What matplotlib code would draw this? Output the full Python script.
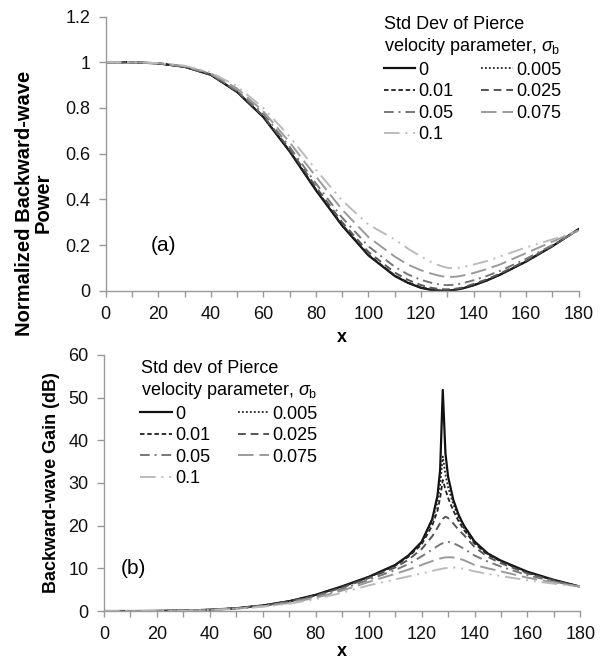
import matplotlib
matplotlib.use("Agg")
import matplotlib.pyplot as plt
from matplotlib.ticker import MultipleLocator

plt.rcParams["font.family"] = ["Liberation Sans", "DejaVu Sans"]
plt.rcParams["mathtext.fontset"] = "custom"
plt.rcParams["mathtext.rm"] = "Liberation Sans"
plt.rcParams["mathtext.it"] = "Liberation Sans:italic"

# %%
# values

x = [0, 10, 20, 30, 40, 50, 60, 70, 80, 90, 100, 110, 115, 120, 124, 126, 127,
     128, 129, 130, 132, 134, 136, 140, 145, 150, 160, 170, 180]

sigmas = ["0", "0.005", "0.01", "0.025", "0.05", "0.075", "0.1"]

# (a) normalized backward-wave power
p0 = [1.0, 1.0, 0.995, 0.98, 0.945, 0.87, 0.76, 0.61, 0.44, 0.285, 0.155, 0.065, 0.035, 0.013, 0.004,
      0.0012, 0.0004, 0.0, 0.0004, 0.0012, 0.003, 0.0065, 0.011, 0.024, 0.045, 0.07, 0.128, 0.195, 0.27]
p005 = [1.0, 1.0, 0.995, 0.98, 0.945, 0.87, 0.76, 0.611, 0.441, 0.286, 0.156, 0.066, 0.036, 0.014, 0.0045,
        0.0016, 0.0008, 0.0003, 0.0006, 0.0014, 0.0032, 0.0067, 0.0112, 0.024, 0.045, 0.07, 0.128, 0.195, 0.27]
p01 = [1.0, 1.0, 0.995, 0.98, 0.945, 0.87, 0.762, 0.613, 0.445, 0.29, 0.158, 0.068, 0.037, 0.015, 0.0055,
       0.0028, 0.0017, 0.0009, 0.0012, 0.002, 0.004, 0.0075, 0.012, 0.025, 0.046, 0.071, 0.129, 0.196, 0.27]
p025 = [1.0, 1.0, 0.995, 0.98, 0.946, 0.872, 0.765, 0.62, 0.455, 0.3, 0.17, 0.08, 0.048, 0.025, 0.013,
        0.0095, 0.0082, 0.0072, 0.0066, 0.0065, 0.0078, 0.0105, 0.015, 0.03, 0.05, 0.075, 0.132, 0.197, 0.268]
p05 = [1.0, 1.0, 0.995, 0.981, 0.948, 0.875, 0.775, 0.63, 0.47, 0.32, 0.195, 0.105, 0.072, 0.048, 0.035,
       0.03, 0.028, 0.026, 0.0255, 0.025, 0.026, 0.029, 0.034, 0.046, 0.065, 0.087, 0.14, 0.2, 0.265]
p075 = [1.0, 1.0, 0.996, 0.983, 0.951, 0.885, 0.785, 0.65, 0.5, 0.355, 0.235, 0.15, 0.115, 0.09, 0.075,
        0.069, 0.066, 0.064, 0.062, 0.061, 0.061, 0.063, 0.067, 0.078, 0.095, 0.115, 0.165, 0.215, 0.265]
p1 = [1.0, 1.0, 0.996, 0.985, 0.955, 0.895, 0.8, 0.675, 0.53, 0.395, 0.29, 0.225, 0.185, 0.15, 0.125,
      0.115, 0.111, 0.107, 0.104, 0.101, 0.099, 0.1, 0.104, 0.115, 0.13, 0.15, 0.19, 0.225, 0.26]

# (b) backward-wave gain, dB
g0 = [0, 0, 0.03, 0.1, 0.3, 0.65, 1.3, 2.3, 3.8, 5.8, 8.0, 10.8, 13.0, 16.2, 21.5, 27, 33,
      51.8, 37, 31.5, 26, 22.5, 20, 16.3, 13.5, 11.8, 9.2, 7.3, 5.7]
g005 = [0, 0, 0.03, 0.1, 0.3, 0.65, 1.3, 2.3, 3.8, 5.75, 8.0, 10.7, 12.9, 16.0, 21, 25.5, 29.5,
        36.2, 32, 29, 25, 21.8, 19.5, 16.1, 13.4, 11.7, 9.1, 7.2, 5.7]
g01 = [0, 0, 0.03, 0.1, 0.3, 0.65, 1.3, 2.3, 3.75, 5.7, 7.9, 10.6, 12.7, 15.6, 20, 23.5, 26.5,
       30.7, 28.5, 26.5, 23.5, 21, 19, 15.8, 13.2, 11.6, 9.0, 7.2, 5.7]
g025 = [0, 0, 0.03, 0.1, 0.3, 0.63, 1.25, 2.2, 3.6, 5.5, 7.7, 10.2, 12.0, 14.5, 17.5, 19.5, 20.6,
        21.6, 22.1, 21.8, 20.5, 19, 17.8, 15, 12.7, 11.2, 8.8, 7.1, 5.7]
g05 = [0, 0, 0.03, 0.1, 0.28, 0.6, 1.2, 2.1, 3.4, 5.2, 7.3, 9.6, 11.0, 12.8, 14.4, 15.2, 15.6,
       15.9, 16.1, 16.2, 15.9, 15.3, 14.6, 13.0, 11.6, 10.4, 8.4, 6.9, 5.7]
g075 = [0, 0, 0.02, 0.08, 0.25, 0.55, 1.1, 1.9, 3.1, 4.8, 6.8, 8.7, 9.7, 10.8, 11.7, 12.1, 12.3,
        12.45, 12.55, 12.6, 12.55, 12.3, 11.9, 10.8, 10.0, 9.3, 7.8, 6.7, 5.7]
g1 = [0, 0, 0.02, 0.07, 0.22, 0.5, 1.0, 1.7, 2.8, 4.3, 6.0, 7.4, 8.1, 8.8, 9.4, 9.7, 9.8,
      9.95, 10.05, 10.1, 10.2, 10.1, 9.9, 9.3, 8.7, 8.2, 7.2, 6.4, 5.7]

power = [p0, p005, p01, p025, p05, p075, p1]
gain = [g0, g005, g01, g025, g05, g075, g1]

# Excel-ish line styles, one per sigma
styles = [
    dict(color="#111111", ls="-", lw=1.6),
    dict(color="#222222", ls=(0, (1, 1.2)), lw=1.3),
    dict(color="#222222", ls=(0, (2.5, 1.5)), lw=1.3),
    dict(color="#555555", ls=(0, (4, 2.5)), lw=1.4),
    dict(color="#777777", ls=(0, (5, 2.5, 1, 2.5)), lw=1.4),
    dict(color="#9a9a9a", ls=(0, (8, 3)), lw=1.4),
    dict(color="#bbbbbb", ls=(0, (8, 3, 1, 3, 1, 3)), lw=1.4),
]

# %%

fig = plt.figure(figsize=(6.04, 6.61), dpi=100)
ax1 = fig.add_axes([0.175, 0.560, 0.783, 0.415])
ax2 = fig.add_axes([0.172, 0.0756, 0.789, 0.3874])

order = [0, 2, 4, 6, 1, 3, 5]  # legend fills by column


def style_axes(ax, xpad):
    for s in ["top", "right"]:
        ax.spines[s].set_visible(False)
    for s in ["left", "bottom"]:
        ax.spines[s].set_color("#999999")
        ax.spines[s].set_linewidth(1.0)
    ax.set_xlim(0, 180)
    ax.xaxis.set_major_locator(MultipleLocator(20))
    ax.xaxis.set_minor_locator(MultipleLocator(10))
    ax.tick_params(which="both", direction="out", color="#999999", labelsize=13,
                   labelcolor="#111111", width=1.0)
    ax.tick_params(axis="x", which="both", length=4, pad=7)
    ax.tick_params(axis="y", length=5, pad=6)
    ax.set_xlabel("x", fontsize=13, fontweight="bold", labelpad=xpad)


# (a)
lines = []
for ys, st, lab in zip(power, styles, sigmas):
    (ln,) = ax1.plot(x, ys, label=lab, **st)
    lines.append(ln)
style_axes(ax1, 4)
ax1.set_ylim(0, 1.2)
ax1.set_yticks([0, 0.2, 0.4, 0.6, 0.8, 1.0, 1.2])
ax1.set_yticklabels(["0", "0.2", "0.4", "0.6", "0.8", "1", "1.2"])
ax1.set_ylabel("Normalized Backward-wave\nPower", fontsize=14.5, fontweight="bold",
               linespacing=1.0)
ax1.yaxis.set_label_coords(-0.112, 0.32)
ax1.text(22, 0.2, "(a)", fontsize=15, ha="center", va="center")
ax1.legend([lines[i] for i in order], [sigmas[i] for i in order], ncol=2,
           title="Std Dev of Pierce\nvelocity parameter, $\\sigma_\\mathrm{b}$",
           title_fontsize=13, fontsize=13, frameon=False, loc="upper left",
           bbox_to_anchor=(0.62, 0.989), bbox_transform=fig.transFigure,
           borderpad=0, handlelength=1.75, handletextpad=0.2, columnspacing=1.5,
           labelspacing=0.25)

# (b)
lines = []
for ys, st, lab in zip(gain, styles, sigmas):
    (ln,) = ax2.plot(x, ys, label=lab, **st)
    lines.append(ln)
style_axes(ax2, 0)
ax2.set_ylim(0, 60)
ax2.yaxis.set_major_locator(MultipleLocator(10))
ax2.set_ylabel("Backward-wave Gain (dB)", fontsize=13, fontweight="bold", labelpad=6)
ax2.text(11, 10, "(b)", fontsize=15, ha="center", va="center")
ax2.legend([lines[i] for i in order], [sigmas[i] for i in order], ncol=2,
           title="Std dev of Pierce\nvelocity parameter, $\\sigma_\\mathrm{b}$",
           title_fontsize=13, fontsize=13, frameon=False, loc="upper left",
           bbox_to_anchor=(0.217, 0.469), bbox_transform=fig.transFigure,
           borderpad=0, handlelength=1.75, handletextpad=0.2, columnspacing=1.5,
           labelspacing=0.25)

fig.savefig("out.png", dpi=100)
